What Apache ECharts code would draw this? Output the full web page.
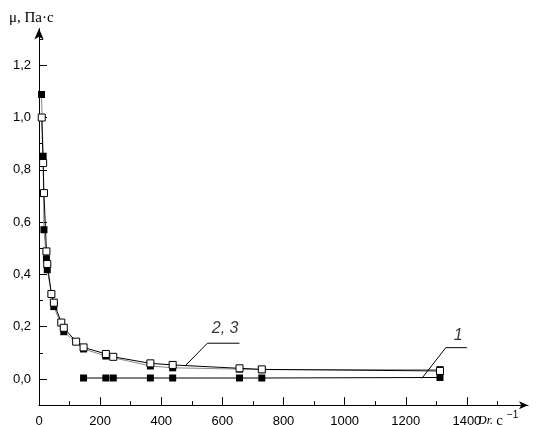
<!DOCTYPE html>
<html><head><meta charset="utf-8">
<script src="https://cdn.jsdelivr.net/npm/echarts@6/dist/echarts.min.js"></script>
<style>html,body{margin:0;padding:0;background:#fff}#c{width:537px;height:425px}</style>
</head><body><div id="c"></div>
<script>
// Curve 1 (filled squares near zero)
const curve1X = [145.8, 218.7, 243, 364.5, 437.4, 656.1, 729, 1312];
const curve1Y = [0.004, 0.004, 0.004, 0.004, 0.004, 0.004, 0.004, 0.006];
// Curve 2 (open squares, black line)
const curve2X = [9, 13.5, 16.2, 24.3, 27, 40.5, 48.6, 72.9, 81, 121.5, 145.8, 218.7, 243, 364.5, 437.4, 656.1, 729, 1312];
const curve2Y = [1.0, 0.826, 0.711, 0.488, 0.44, 0.325, 0.292, 0.216, 0.196, 0.143, 0.121, 0.096, 0.085, 0.06, 0.054, 0.041, 0.037, 0.031];
// Curve 3 (filled squares, grey line)
const curve3X = [8.1, 13.5, 16.2, 24.3, 27, 48.6, 81, 145.8, 218.7, 364.5, 437.4, 656.1, 729, 1312];
const curve3Y = [1.088, 0.852, 0.571, 0.46, 0.418, 0.277, 0.181, 0.115, 0.088, 0.05, 0.043, 0.038, 0.036, 0.036];
// Leader lines for curve labels
const leader23X = [478, 551, 656];
const leader23Y = [0.05, 0.137, 0.137];
const leader1X = [1253, 1331, 1400];
const leader1Y = [0.003, 0.12, 0.12];
const labelNames = ['2, 3', '1'];
const labelX = [609, 1372];
const labelY = [0.195, 0.166];
// Axis ticks
const xMajorTicks = [0, 200, 400, 600, 800, 1000, 1200, 1400];
const xMinorTicks = [100, 300, 500, 700, 900, 1100, 1300, 1500];
const yMajorTicks = [0, 0.2, 0.4, 0.6, 0.8, 1.0, 1.2];
const yMinorTicks = [0.1, 0.3, 0.5, 0.7, 0.9, 1.1, 1.3];

const zip = (xs, ys) => xs.map((x, i) => [x, ys[i]]);
const chart = echarts.init(document.getElementById('c'));
const axisFont = {color: '#000', fontFamily: 'Liberation Sans', fontSize: 13};
const X_MIN = 0, X_MAX = 1600, Y_MIN = -0.1, Y_MAX = 1.34;

chart.setOption({
  animation: false,
  backgroundColor: '#fff',
  grid: {left: 39, right: 9, top: 28.6, bottom: 19.8, outerBoundsMode: 'none', containLabel: false},
  xAxis: [{
    type: 'value', position: 'bottom', min: X_MIN, max: X_MAX,
    axisLine: {show: true, onZero: false, lineStyle: {color: '#000', width: 1}, symbol: ['none', 'arrow'], symbolSize: [6, 9]},
    axisTick: {show: true, inside: true, length: 8, customValues: xMajorTicks, lineStyle: {color: '#000'}},
    axisLabel: {show: true, customValues: xMajorTicks, margin: 10, formatter: v => String(v), ...axisFont},
    splitLine: {show: false}
  }, {
    type: 'value', position: 'bottom', min: X_MIN, max: X_MAX,
    axisLine: {show: false, onZero: false},
    axisTick: {show: true, inside: true, length: 4, customValues: xMinorTicks, lineStyle: {color: '#000'}},
    axisLabel: {show: false},
    splitLine: {show: false}
  }],
  yAxis: [{
    type: 'value', position: 'left', min: Y_MIN, max: Y_MAX,
    axisLine: {show: true, onZero: false, lineStyle: {color: '#000', width: 1}, symbol: ['none', 'arrow'], symbolSize: [7, 11]},
    axisTick: {show: true, inside: true, length: 8, customValues: yMajorTicks, lineStyle: {color: '#000'}},
    axisLabel: {show: true, customValues: yMajorTicks, margin: 8, formatter: v => v.toFixed(1).replace('.', ','), ...axisFont},
    splitLine: {show: false}
  }, {
    type: 'value', position: 'left', min: Y_MIN, max: Y_MAX,
    axisLine: {show: false, onZero: false},
    axisTick: {show: true, inside: true, length: 4, customValues: yMinorTicks, lineStyle: {color: '#000'}},
    axisLabel: {show: false},
    splitLine: {show: false}
  }],
  series: [
    {type: 'line', name: '3', data: zip(curve3X, curve3Y), symbol: 'rect', symbolSize: 7,
     itemStyle: {color: '#000'}, lineStyle: {color: '#8a8a8a', width: 1}, z: 2},
    {type: 'line', name: '2', data: zip(curve2X, curve2Y), symbol: 'rect', symbolSize: 7,
     itemStyle: {color: '#fff', borderColor: '#000', borderWidth: 1}, lineStyle: {color: '#000', width: 1}, z: 3},
    {type: 'line', name: '1', data: zip(curve1X, curve1Y), symbol: 'rect', symbolSize: 7,
     itemStyle: {color: '#000'}, lineStyle: {color: '#000', width: 1}, z: 2},
    {type: 'line', data: zip(leader23X, leader23Y), symbol: 'none', lineStyle: {color: '#000', width: 1}, silent: true, z: 4},
    {type: 'line', data: zip(leader1X, leader1Y), symbol: 'none', lineStyle: {color: '#000', width: 1}, silent: true, z: 4},
    {type: 'scatter', data: labelNames.map((n, i) => ({value: [labelX[i], labelY[i]], name: n})),
     symbolSize: 1, itemStyle: {color: 'rgba(0,0,0,0)'}, silent: true, z: 5,
     label: {show: true, position: 'inside', formatter: p => p.name, color: '#000',
             fontFamily: 'Liberation Sans', fontStyle: 'italic', fontSize: 16}}
  ],
  graphic: [
    {type: 'text', left: 9, top: 11, style: {text: 'μ, Па·с', fill: '#000', font: '15px "Liberation Serif"'}},
    {type: 'text', left: 478, top: 410, style: {
      text: '{a|Dr.} {b|с}{c|−1}', fill: '#000',
      rich: {
        a: {fontFamily: 'Liberation Serif', fontStyle: 'italic', fontSize: 12, fill: '#000'},
        b: {fontFamily: 'Liberation Serif', fontSize: 15, fill: '#000'},
        c: {fontFamily: 'Liberation Sans', fontSize: 10, fill: '#000', verticalAlign: 'top', padding: [0, 0, 12, 4]}
      }}}
  ]
});
</script></body></html>
